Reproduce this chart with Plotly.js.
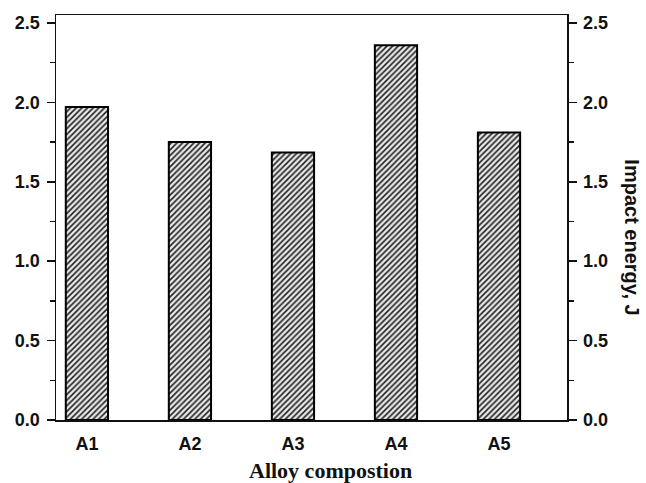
<!DOCTYPE html>
<html>
<head>
<meta charset="utf-8">
<script src="https://cdn.plot.ly/plotly-3.0.1.min.js"></script>
<style>html,body{margin:0;padding:0;background:#fff;}#chart{width:646px;height:483px;}</style>
</head>
<body>
<div id="chart"></div>
<script>
var categories = ["A1", "A2", "A3", "A4", "A5"];
var impactEnergy = [1.97, 1.75, 1.685, 2.36, 1.81];
var yTickVals = [0, 0.5, 1.0, 1.5, 2.0, 2.5];
var yTickText = ["0.0", "0.5", "1.0", "1.5", "2.0", "2.5"];
var xTitle = "Alloy compostion";
var yTitle = "Impact energy, J";

var tickFont = {family: "Liberation Sans, Arial, sans-serif", size: 18, color: "#111"};

var trace = {
  type: "bar",
  x: categories,
  y: impactEnergy,
  width: 0.41,
  marker: {
    color: "#e8e8e8",
    line: {color: "#000", width: 2},
    pattern: {shape: "/", size: 4, solidity: 0.4, fgcolor: "#222", bgcolor: "#e8e8e8"}
  },
  hoverinfo: "none",
  showlegend: false
};
var trace2 = {
  type: "scatter", x: [categories[0]], y: [0], yaxis: "y2",
  mode: "markers", marker: {opacity: 0}, showlegend: false, hoverinfo: "none"
};

var yCommon = {
  range: [0, 2.55],
  tickvals: yTickVals,
  ticktext: yTickText.map(function(t){return "<b>" + t + "</b>";}),
  ticks: "outside",
  ticklen: 8,
  tickwidth: 1.5,
  tickcolor: "#111",
  showline: true,
  linecolor: "#111",
  linewidth: 1.5,
  showgrid: false,
  zeroline: false,
  tickfont: tickFont,
  ticklabelstandoff: 3,
  minor: {tickvals: [0.25, 0.75, 1.25, 1.75, 2.25], ticks: "outside", ticklen: 5, tickwidth: 1.5, tickcolor: "#111"}
};

var layout = {
  width: 646, height: 483,
  margin: {l: 56, r: 79, t: 15, b: 63},
  paper_bgcolor: "#fff",
  plot_bgcolor: "#fff",
  font: tickFont,
  xaxis: {
    type: "category",
    range: [-0.3, 4.66],
    showline: true, mirror: true,
    linecolor: "#111", linewidth: 1.5,
    ticks: "", showgrid: false, zeroline: false,
    tickvals: categories,
    ticktext: categories.map(function(t){return "<b>" + t + "</b>";}),
    tickfont: {family: "Liberation Sans, Arial, sans-serif", size: 18, color: "#111"},
    ticklabelstandoff: 7
  },
  yaxis: Object.assign({}, yCommon, {side: "left"}),
  yaxis2: Object.assign({}, yCommon, {side: "right", overlaying: "y"}),
  annotations: [{
    text: "<b>" + yTitle + "</b>",
    xref: "paper", yref: "paper",
    x: 1.128, y: 0.45,
    xanchor: "center", yanchor: "middle",
    textangle: 90,
    showarrow: false,
    font: {family: "Liberation Sans, Arial, sans-serif", size: 20, color: "#111"}
  }, {
    text: "<b>" + xTitle + "</b>",
    xref: "paper", yref: "paper",
    x: 0.538, y: -0.125,
    xanchor: "center", yanchor: "middle",
    showarrow: false,
    font: {family: "Liberation Serif, Times New Roman, serif", size: 22, color: "#111"}
  }]
};

Plotly.newPlot("chart", [trace, trace2], layout, {displayModeBar: false, staticPlot: true});
</script>
</body>
</html>
